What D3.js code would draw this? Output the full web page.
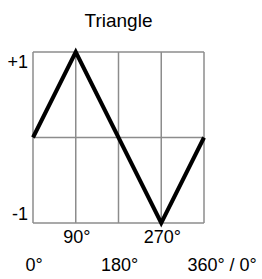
<!DOCTYPE html>
<html>
<head>
<meta charset="utf-8">
<script src="https://cdn.jsdelivr.net/npm/d3@7"></script>
<style>
  body { margin: 0; background: #fff; }
  text { font-family: "Liberation Sans", Arial, sans-serif; fill: #000; }
</style>
</head>
<body>
<svg id="chart" width="262" height="279"></svg>
<script>
// data
var waveDeg = [0, 90, 270, 360];
var waveVal = [0, 1, -1, 0];
var gridDeg = [0, 90, 180, 270, 360];
var gridVal = [-1, 0, 1];
var yLabels = [{v: 1, t: "+1"}, {v: -1, t: "-1"}];
var xLabelsTop = [{d: 90, t: "90°"}, {d: 270, t: "270°"}];
var xLabelsBottom = [{d: 0, t: "0°"}, {d: 180, t: "180°"}];

var svg = d3.select("#chart");

var x = d3.scaleLinear().domain([0, 360]).range([33, 204]);
var y = d3.scaleLinear().domain([-1, 1]).range([223, 52]);

// title
svg.append("text")
	.attr("x", (x(0) + x(360)) / 2)
	.attr("y", 27)
	.attr("text-anchor", "middle")
	.style("font-size", "19px")
	.text("Triangle");

// grid
svg.selectAll("line.v").data(gridDeg).enter().append("line")
	.attr("class", "v")
	.attr("x1", function(d) { return x(d); })
	.attr("x2", function(d) { return x(d); })
	.attr("y1", y(1))
	.attr("y2", y(-1))
	.attr("stroke", "#8c8c8c")
	.attr("stroke-width", 1.5);

svg.selectAll("line.h").data(gridVal).enter().append("line")
	.attr("class", "h")
	.attr("x1", x(0))
	.attr("x2", x(360))
	.attr("y1", function(d) { return y(d); })
	.attr("y2", function(d) { return y(d); })
	.attr("stroke", "#8c8c8c")
	.attr("stroke-width", 1.5);

// wave
var pts = waveDeg.map(function(d, i) { return [d, waveVal[i]]; });
var line = d3.line()
	.x(function(d) { return x(d[0]); })
	.y(function(d) { return y(d[1]); });

svg.append("path")
	.attr("d", line(pts))
	.attr("fill", "none")
	.attr("stroke", "#000")
	.attr("stroke-width", 4)
	.attr("stroke-linejoin", "miter");

// y labels
svg.selectAll("text.yl").data(yLabels).enter().append("text")
	.attr("class", "yl")
	.attr("x", 28)
	.attr("y", function(d) { return d.v > 0 ? y(d.v) + 16 : y(d.v) - 3; })
	.attr("text-anchor", "end")
	.style("font-size", "18px")
	.text(function(d) { return d.t; });

// x labels
svg.selectAll("text.xt").data(xLabelsTop).enter().append("text")
	.attr("class", "xt")
	.attr("x", function(d) { return x(d.d) + 1; })
	.attr("y", 243)
	.attr("text-anchor", "middle")
	.style("font-size", "18px")
	.text(function(d) { return d.t; });

svg.selectAll("text.xb").data(xLabelsBottom).enter().append("text")
	.attr("class", "xb")
	.attr("x", function(d) { return x(d.d) + 1; })
	.attr("y", 271)
	.attr("text-anchor", "middle")
	.style("font-size", "18px")
	.text(function(d) { return d.t; });

// last label: "360°" centred on its gridline, rest trailing
var last = svg.append("text")
	.attr("y", 271)
	.style("font-size", "18px");
last.append("tspan").text("360°");
var w360 = last.node().getComputedTextLength();
last.append("tspan").text(" / 0°");
last.attr("x", x(360) - w360 / 2 + 2);
</script>
</body>
</html>
